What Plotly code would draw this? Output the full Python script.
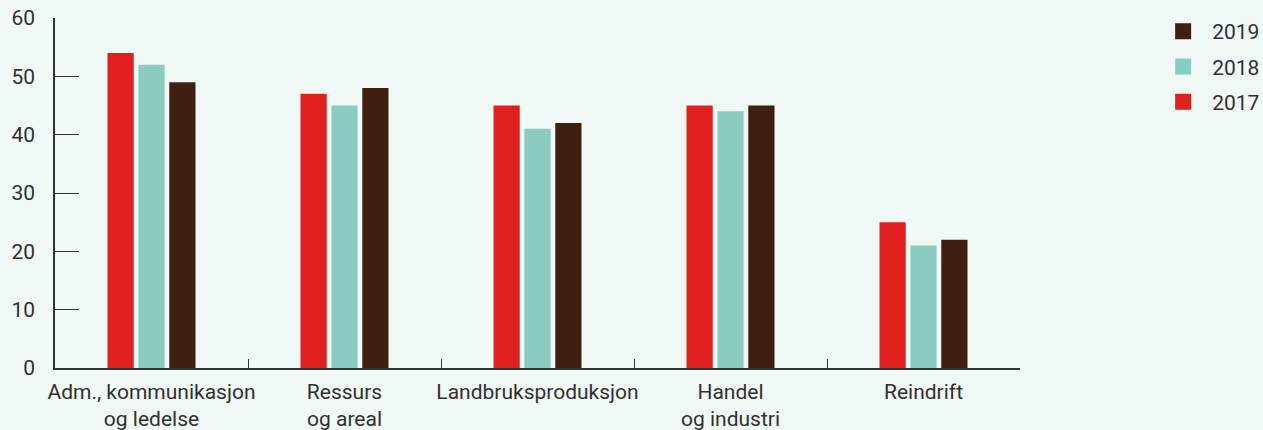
import plotly.graph_objects as go

categories = ["Adm., kommunikasjon<br>og ledelse", "Ressurs<br>og areal", "Landbruksproduksjon",
              "Handel<br>og industri", "Reindrift"]
years = ["2017", "2018", "2019"]
v2017 = [54, 47, 45, 45, 25]
v2018 = [52, 45, 41, 44, 21]
v2019 = [49, 48, 42, 45, 22]
y_ticks = [0, 10, 20, 30, 40, 50, 60]

colors = {"2017": "#e01f1f", "2018": "#8ccbbf", "2019": "#3f1f10"}
series = {"2017": v2017, "2018": v2018, "2019": v2019}
bg = "#f1f9f6"

fig = go.Figure()
for y in years:
    fig.add_trace(go.Bar(x=categories, y=series[y], name=y, marker_color=colors[y],
                         marker_line_width=0, showlegend=False))
# legend entries (large squares), newest year on top
for y in reversed(years):
    fig.add_trace(go.Scatter(x=[None], y=[None], mode="markers", name=y, legendgroup=y,
                             marker=dict(symbol="square", size=21, color=colors[y])))

font_color = "#303030"
fig.update_layout(
    width=1263, height=430,
    margin=dict(l=55, r=243, t=18, b=62, autoexpand=False),
    paper_bgcolor=bg, plot_bgcolor=bg,
    barmode="group", bargap=0.52, bargroupgap=0.15,
    font=dict(family="Roboto", size=21, color=font_color),
    legend=dict(traceorder="grouped", x=1.139, y=1.02, xanchor="left", yanchor="top",
                font=dict(size=21), itemsizing="trace", tracegroupgap=5, itemwidth=48,
                bgcolor="rgba(0,0,0,0)"),
    showlegend=True,
)
fig.update_xaxes(showline=True, linecolor="#333", linewidth=1.5, ticks="inside",
                 tickson="boundaries", ticklen=9, tickcolor="#333", tickwidth=1.2,
                 tickangle=0, showgrid=False, zeroline=False, automargin=False,
                 ticklabelstandoff=4)
fig.update_yaxes(range=[0, 60], tickvals=y_ticks, showline=True, linecolor="#333", linewidth=1.5,
                 ticks="inside", ticklen=24, tickcolor="#333", tickwidth=1.2,
                 showgrid=False, zeroline=False, ticklabelstandoff=14, automargin=False)
fig.write_html("out.html", config={"displayModeBar": False},
               post_script="document.body.style.margin='0';document.body.style.background='%s';" % bg)
